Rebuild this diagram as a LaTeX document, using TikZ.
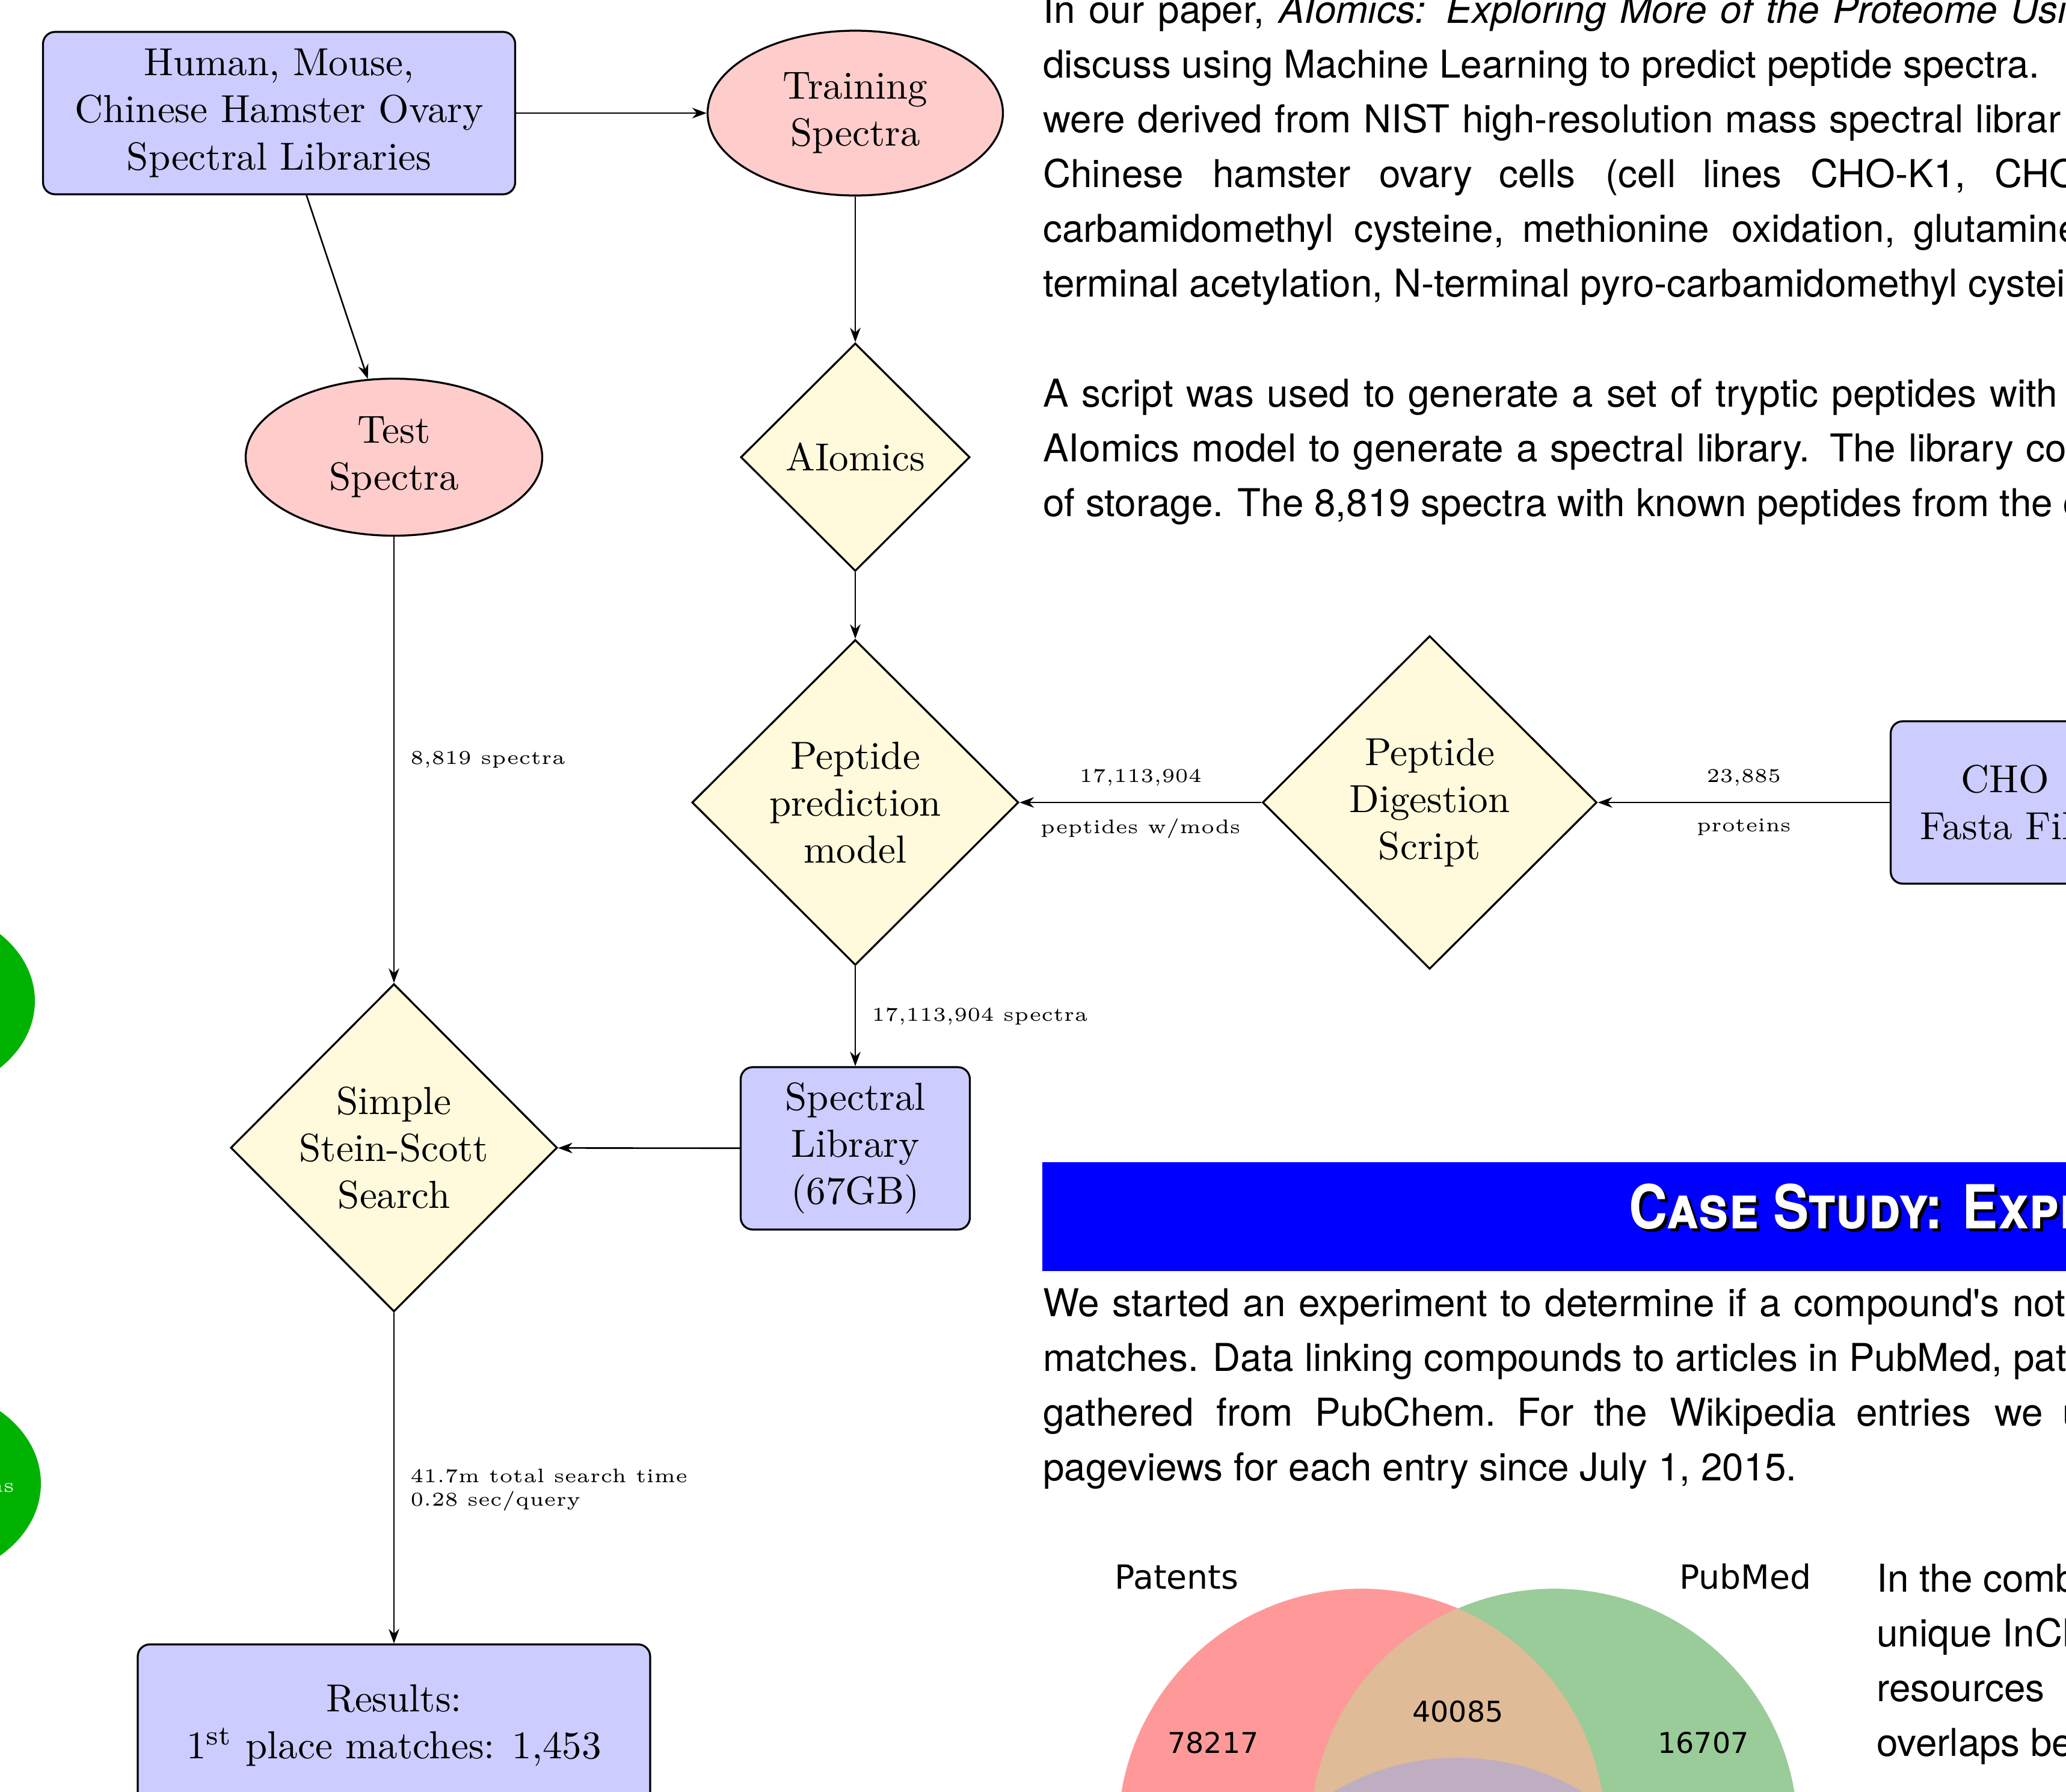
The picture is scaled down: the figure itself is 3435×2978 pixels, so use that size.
\documentclass[tikz,border=0pt]{standalone}
\usepackage{fontspec}
\newfontfamily\bodyfont{TeX Gyre Heros}
\newfontfamily\titlefont[FakeStretch=0.88]{TeX Gyre Heros}
\newfontfamily\vennfont{DejaVu Sans}
\usetikzlibrary{shapes.geometric,arrows.meta}
\newlength\pxu
\setlength\pxu{0.0054cm}
\newcommand\fillline[2]{\makebox[#1\pxu][s]{#2}}
\definecolor{boxblue}{RGB}{204,204,255}
\definecolor{ellred}{RGB}{255,204,204}
\definecolor{diayellow}{RGB}{255,250,220}
\definecolor{bannerblue}{RGB}{0,0,255}
\definecolor{sidegreen}{RGB}{0,178,0}
\definecolor{vennred}{RGB}{255,153,153}
\definecolor{venngreen}{RGB}{153,204,153}
\definecolor{venntan}{RGB}{223,187,152}
\definecolor{vennpurple}{RGB}{191,174,194}
\begin{document}
\begin{tikzpicture}[x=0.0054cm,y=-0.0054cm,>={Stealth[length=3.7pt,width=2.7pt]},
  flowbox/.style={draw,line width=0.5pt,rounded corners=20\pxu,fill=boxblue,align=center,minimum width=381\pxu,minimum height=270\pxu},
  flowell/.style={draw,line width=0.5pt,ellipse,fill=ellred,align=center,inner sep=0pt},
  flowdia/.style={draw,line width=0.5pt,diamond,fill=diayellow,align=center,inner sep=0pt},
  edgelbl/.style={font=\tiny,inner sep=26\pxu},
  bodytxt/.style={anchor=base west,inner sep=0pt,font=\bodyfont\fontsize{9.8}{11.8}\selectfont},
  titletxt/.style={anchor=base west,inner sep=0pt,font=\titlefont\bfseries\scshape\fontsize{15.5}{18}\selectfont},
  vennlbl/.style={inner sep=0pt,font=\vennfont\fontsize{7.3}{8.8}\selectfont}]
\useasboundingbox (0,0) rectangle (3435,2978);
\clip (0,0) rectangle (3435,2978);

\fill[sidegreen] (-142,1664) ellipse [x radius=200\pxu, y radius=158\pxu];
\fill[sidegreen] (-132,2466) ellipse [x radius=200\pxu, y radius=160\pxu];
\node[anchor=base east,inner sep=0pt,text=white,font=\fontsize{5}{6}\selectfont] (sidetxt) at (25,2480) {ns};

\node[flowbox,minimum width=785\pxu] (human) at (464,188) {Human, Mouse,\\Chinese Hamster Ovary\\Spectral Libraries};
\node[flowell,minimum width=491\pxu,minimum height=274\pxu] (training) at (1422,188) {Training\\Spectra};
\node[flowell,minimum width=493\pxu,minimum height=261\pxu] (test) at (655,760) {Test\\Spectra};
\node[flowdia,minimum width=381\pxu,minimum height=379\pxu] (aiomics) at (1422,760) {AIomics};
\node[flowdia,minimum width=543\pxu,minimum height=541\pxu] (pred) at (1422,1334) {Peptide\\prediction\\model};
\node[flowdia,minimum width=556\pxu,minimum height=554\pxu] (digest) at (2377,1334) {Peptide\\Digestion\\Script};
\node[flowbox] (cho) at (3334,1334) {CHO\\Fasta File};
\node[flowbox] (lib) at (1422,1909) {Spectral\\Library\\(67GB)};
\node[flowdia,minimum width=543\pxu,minimum height=545\pxu] (search) at (655,1908) {Simple\\Stein-Scott\\Search};
\node[flowbox,anchor=north,minimum width=852\pxu] (results) at (655,2732) {Results:\\1\textsuperscript{st} place matches: 1,453};

\foreach \a/\b in {human/training,human/test,training/aiomics,aiomics/pred,lib/search}
  \draw[->] (\a)--(\b);
\draw[->] (test) -- node[edgelbl,right] {8,819 spectra} (search);
\draw[->] (digest) -- node[edgelbl,above] {17,113,904} node[edgelbl,below] {peptides w/mods} (pred);
\draw[->] (cho) -- node[edgelbl,above] {23,885} node[edgelbl,below] {proteins} (digest);
\draw[->] (pred) -- node[edgelbl,right] {17,113,904 spectra} (lib);
\draw[->] (search) -- node[edgelbl,right,align=left,pos=0.535] {41.7m total search time\\0.28 sec/query} (results);

\node[bodytxt] (l1) at (1733,38) {\fillline{1704}{In our paper, \textit{AIomics: Exploring More of the Proteome Usi}}};
\node[bodytxt] (l2) at (1733,129) {discuss using Machine Learning to predict peptide spectra.};
\node[bodytxt] (l3) at (1733,220) {\fillline{1692}{were derived from NIST high-resolution mass spectral librar}};
\foreach \w/\x [count=\i] in {Chinese/1733,hamster/2015,ovary/2292,cells/2491,{(cell}/2668,lines/2830,{CHO-K1,}/3009,CHO/3315}
  \node[bodytxt] (l4w\i) at (\x,311) {\w};
\foreach \w/\x [count=\i] in {carbamidomethyl/1733,{cysteine,}/2250,methionine/2530,{oxidation,}/2878,glutamine/3180}
  \node[bodytxt] (l5w\i) at (\x,402) {\w};
\node[bodytxt] (l6) at (1733,493) {terminal acetylation, N-terminal pyro-carbamidomethyl cystei};
\node[bodytxt] (l7) at (1733,676) {\fillline{1687}{A script was used to generate a set of tryptic peptides with}};
\node[bodytxt] (l8) at (1733,767) {\fillline{1702}{AIomics model to generate a spectral library. The library co}};
\node[bodytxt] (l9) at (1733,858) {of storage. The 8,819 spectra with known peptides from the c};

\fill[bannerblue] (1733,1932) rectangle (3500,2113);
\node[titletxt,text=black] (titleshade) at (2712,2047) {Case Study: Expe};
\node[titletxt,text=white] (title) at (2707,2042) {Case Study: Expe};

\node[bodytxt] (l10) at (1733,2188) {\fillline{1700}{We started an experiment to determine if a compound's not}};
\node[bodytxt] (l11) at (1733,2279) {matches. Data linking compounds to articles in PubMed, pat};
\foreach \w/\x [count=\i] in {gathered/1733,from/2021,PubChem./2185,For/2521,the/2649,Wikipedia/2775,entries/3085,we/3315,u/3428}
  \node[bodytxt] (l12w\i) at (\x,2370) {\w};
\node[bodytxt] (l13) at (1733,2461) {pageviews for each entry since July 1, 2015.};

\fill[vennred] (2264,3046) circle [radius=405\pxu];
\fill[venngreen] (2584,3046) circle [radius=405\pxu];
\begin{scope}
  \clip (2264,3046) circle [radius=405\pxu];
  \fill[venntan] (2584,3046) circle [radius=405\pxu];
  \clip (2584,3046) circle [radius=405\pxu];
  \fill[vennpurple] (2424,3329) circle [radius=407\pxu];
\end{scope}
\node[vennlbl,anchor=base west,font=\vennfont\fontsize{8.5}{10}\selectfont] (patents) at (1852,2641) {Patents};
\node[vennlbl,anchor=base west,font=\vennfont\fontsize{8.5}{10}\selectfont] (pubmed) at (2791,2641) {PubMed};
\node[vennlbl] (onlypat) at (2017,2897) {78217};
\node[vennlbl] (patpub) at (2424,2845) {40085};
\node[vennlbl] (onlypub) at (2832,2897) {16707};

\node[bodytxt] (r1) at (3119,2646) {In the comb};
\node[bodytxt] (r2) at (3119,2737) {unique InCh};
\node[bodytxt] (r3) at (3119,2828) {resources};
\node[bodytxt] (r4) at (3119,2919) {overlaps be};
\end{tikzpicture}
\end{document}
